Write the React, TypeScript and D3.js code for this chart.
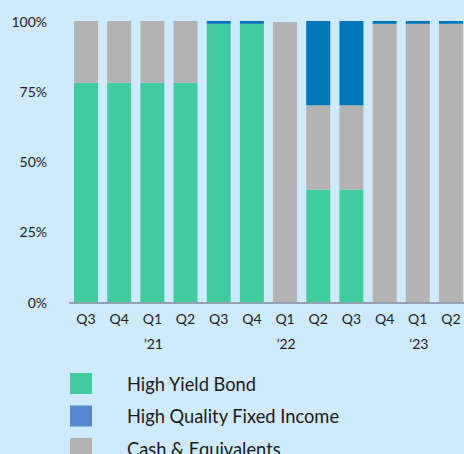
import React from "react";
import * as d3 from "d3";

const quarters = ["Q3", "Q4", "Q1", "Q2", "Q3", "Q4", "Q1", "Q2", "Q3", "Q4", "Q1", "Q2"];
const yearLabels = ["’21", "’22", "‘23"];
const yearLabelIndex = [2, 6, 10];
const highYield = [78, 78, 78, 78, 99, 99, 0, 40, 40, 0, 0, 0];
const cash = [22, 22, 22, 22, 0, 0, 99.6, 30, 30, 99, 99, 99];
const highQuality = [0, 0, 0, 0, 1, 1, 0, 30, 30, 1, 1, 1];
const yTicks = [0, 25, 50, 75, 100];
const seriesNames = ["High Yield Bond", "High Quality Fixed Income", "Cash & Equivalents"];

const W = 464;
const H = 454;
const FONT = "Lato, 'Open Sans', sans-serif";

export default function App() {
  const x = d3
    .scaleBand<number>()
    .domain(quarters.map((_, i) => i))
    .range([69.4, 69.4 + 12 * 33.18])
    .paddingInner(0.277)
    .paddingOuter(0.139);
  const y = d3.scaleLinear().domain([0, 100]).range([302, 21]);

  const rows = quarters.map((q, i) => ({ i, hy: highYield[i], cash: cash[i], hq: highQuality[i] }));
  const stack = d3.stack<any>().keys(["hy", "cash", "hq"]);
  const series = stack(rows);
  const barColors: Record<string, string> = { hy: "#40CC9E", cash: "#B3B3B3", hq: "#0077BA" };
  const legendColors = ["#40CC9E", "#5589CF", "#B3B3B3"];

  return (
    <svg
      width={W}
      height={H}
      style={{ position: "absolute", left: 0, top: 0, display: "block" }}
      fontFamily={FONT}
    >
      <rect x={0} y={0} width={W} height={H} fill="#CFEAFD" />
      {series.map((s) =>
        s.map((d, i) => {
          const h = y(d[0]) - y(d[1]);
          if (h <= 0) return null;
          return (
            <rect
              key={s.key + i}
              x={x(i)}
              y={y(d[1])}
              width={x.bandwidth()}
              height={h}
              fill={barColors[s.key as string]}
            />
          );
        })
      )}
      <line x1={69.3} x2={W} y1={303} y2={303} stroke="#92A2B2" strokeWidth={2} />
      {yTicks.map((t) => (
        <text
          key={t}
          x={47}
          y={y(t) + 2}
          textAnchor="end"
          dominantBaseline="middle"
          fontSize={14}
          fill="#222"
        >
          {t}%
        </text>
      ))}
      {quarters.map((q, i) => (
        <text
          key={i}
          x={(x(i) as number) + x.bandwidth() / 2}
          y={320}
          textAnchor="middle"
          dominantBaseline="middle"
          fontSize={14}
          fill="#222"
        >
          {q}
        </text>
      ))}
      {yearLabels.map((l, k) => (
        <text
          key={l}
          x={(x(yearLabelIndex[k]) as number) + x.bandwidth() / 2 + 1}
          y={345}
          textAnchor="middle"
          dominantBaseline="middle"
          fontSize={14}
          fill="#222"
        >
          {l}
        </text>
      ))}
      {seriesNames.map((n, k) => (
        <g key={n} transform={`translate(0, ${373 + k * 32.5})`}>
          <rect x={70} y={0} width={22} height={21} fill={legendColors[k]} />
          <text x={127} y={13} dominantBaseline="middle" fontSize={18.3} fill="#1a1a1a">
            {n}
          </text>
        </g>
      ))}
    </svg>
  );
}
